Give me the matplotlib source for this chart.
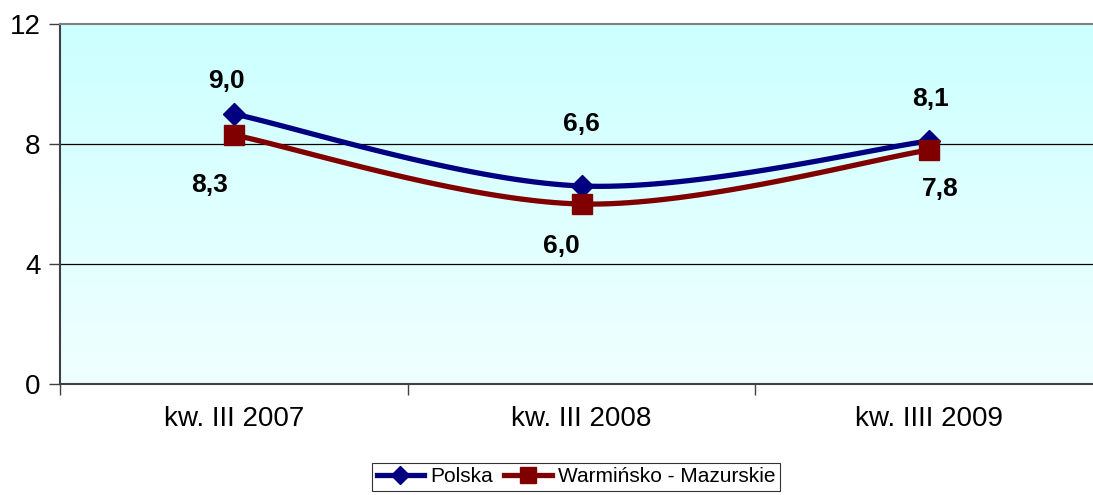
import numpy as np
import matplotlib
matplotlib.use("Agg")
import matplotlib.pyplot as plt
from matplotlib.colors import LinearSegmentedColormap

plt.rcParams['font.family'] = ['Liberation Sans', 'DejaVu Sans']

categories = ['kw. III 2007', 'kw. III 2008', 'kw. IIII 2009']
polska = [9.0, 6.6, 8.1]
warmia = [8.3, 6.0, 7.8]
# label offsets in pixels (dx, dy)
polska_off = [(-7, 33), (0, 62), (1, 42)]
warmia_off = [(-24, -50), (-20, -42), (11, -39)]


def smooth(xs, ys, n=40):
    # Excel-like smoothed line (Catmull-Rom as cubic Bezier)
    pts = np.column_stack([xs, ys]).astype(float)
    ext = np.vstack([pts[0], pts, pts[-1]])
    out = []
    t = np.linspace(0, 1, n)[:, None]
    for i in range(len(pts) - 1):
        p0, p1, p2, p3 = ext[i], ext[i + 1], ext[i + 2], ext[i + 3]
        c1 = p1 + (p2 - p0) / 6
        c2 = p2 - (p3 - p1) / 6
        seg = ((1 - t) ** 3) * p1 + 3 * ((1 - t) ** 2) * t * c1 + 3 * (1 - t) * t ** 2 * c2 + t ** 3 * p2
        out.append(seg)
    out = np.vstack(out)
    return out[:, 0], out[:, 1]


W, H = 1093, 495
fig = plt.figure(figsize=(W / 100, H / 100), dpi=100)
x0, x1, y0, y1 = 60, 1103, 24, 384
ax = fig.add_axes([x0 / W, (H - y1) / H, (x1 - x0) / W, (y1 - y0) / H])

x = np.arange(len(categories))
ax.set_xlim(-0.5, len(categories) - 0.5)

# gradient background, cyan at the top fading to near white at the bottom
cmap = LinearSegmentedColormap.from_list('bg', ['#ccffff', '#f0ffff'])
grad = np.linspace(0, 1, 256)[:, None]
ax.imshow(grad, extent=[-0.5, len(categories) - 0.5, 0, 12], aspect='auto',
          cmap=cmap, zorder=0, origin='upper')
ax.set_ylim(0, 12)

for v in [4, 8]:
    ax.axhline(v, color='black', lw=0.9, zorder=1)

sx, sy = smooth(x, polska)
ax.plot(sx, sy, color='#000080', lw=3.8, zorder=3, solid_capstyle='round')
ax.plot(x, polska, ls='none', marker='D', ms=11, color='#000080', zorder=4)
sx, sy = smooth(x, warmia)
ax.plot(sx, sy, color='#800000', lw=3.8, zorder=3, solid_capstyle='round')
ax.plot(x, warmia, ls='none', marker='s', ms=14, color='#800000', zorder=4)

for xi, v, off in zip(x, polska, polska_off):
    ax.annotate(f'{v:.1f}'.replace('.', ','), (xi, v), xytext=off,
                textcoords='offset pixels', ha='center', va='center',
                fontsize=19, fontweight='bold', zorder=5)
for xi, v, off in zip(x, warmia, warmia_off):
    ax.annotate(f'{v:.1f}'.replace('.', ','), (xi, v), xytext=off,
                textcoords='offset pixels', ha='center', va='center',
                fontsize=19, fontweight='bold', zorder=5)

# legend handles
lp, = ax.plot([], [], color='#000080', lw=3.8, marker='D', ms=9, label='Polska')
lw, = ax.plot([], [], color='#800000', lw=3.8, marker='s', ms=11, label='Warmińsko - Mazurskie')
leg = fig.legend(handles=[lp, lw], loc='center', bbox_to_anchor=(576 / W, 1 - 477 / H),
                 ncol=2, fontsize=15, frameon=True, fancybox=False, edgecolor='black',
                 handlelength=2.3, handletextpad=0.3, columnspacing=0.5,
                 borderpad=0.2, borderaxespad=0)
leg.get_frame().set_linewidth(0.8)

ax.set_yticks([0, 4, 8, 12])
ax.set_yticklabels(['0', '4', '8', '12'], fontsize=20)
ax.tick_params(axis='y', length=8, width=1, color='#404040', pad=6)

ax.set_xticks(x)
ax.set_xticklabels(categories, fontsize=20)
ax.set_xticks(np.arange(-0.5, len(categories), 1), minor=True)
ax.tick_params(axis='x', which='major', length=0, pad=16)
ax.tick_params(axis='x', which='minor', length=8, width=1, color='#404040')

for s in ['left', 'bottom']:
    ax.spines[s].set_color('#404040')
    ax.spines[s].set_linewidth(1.5)
ax.spines['top'].set_color('#808080')
ax.spines['top'].set_linewidth(1.5)
ax.spines['right'].set_visible(False)

fig.savefig('out.png', dpi=100)
